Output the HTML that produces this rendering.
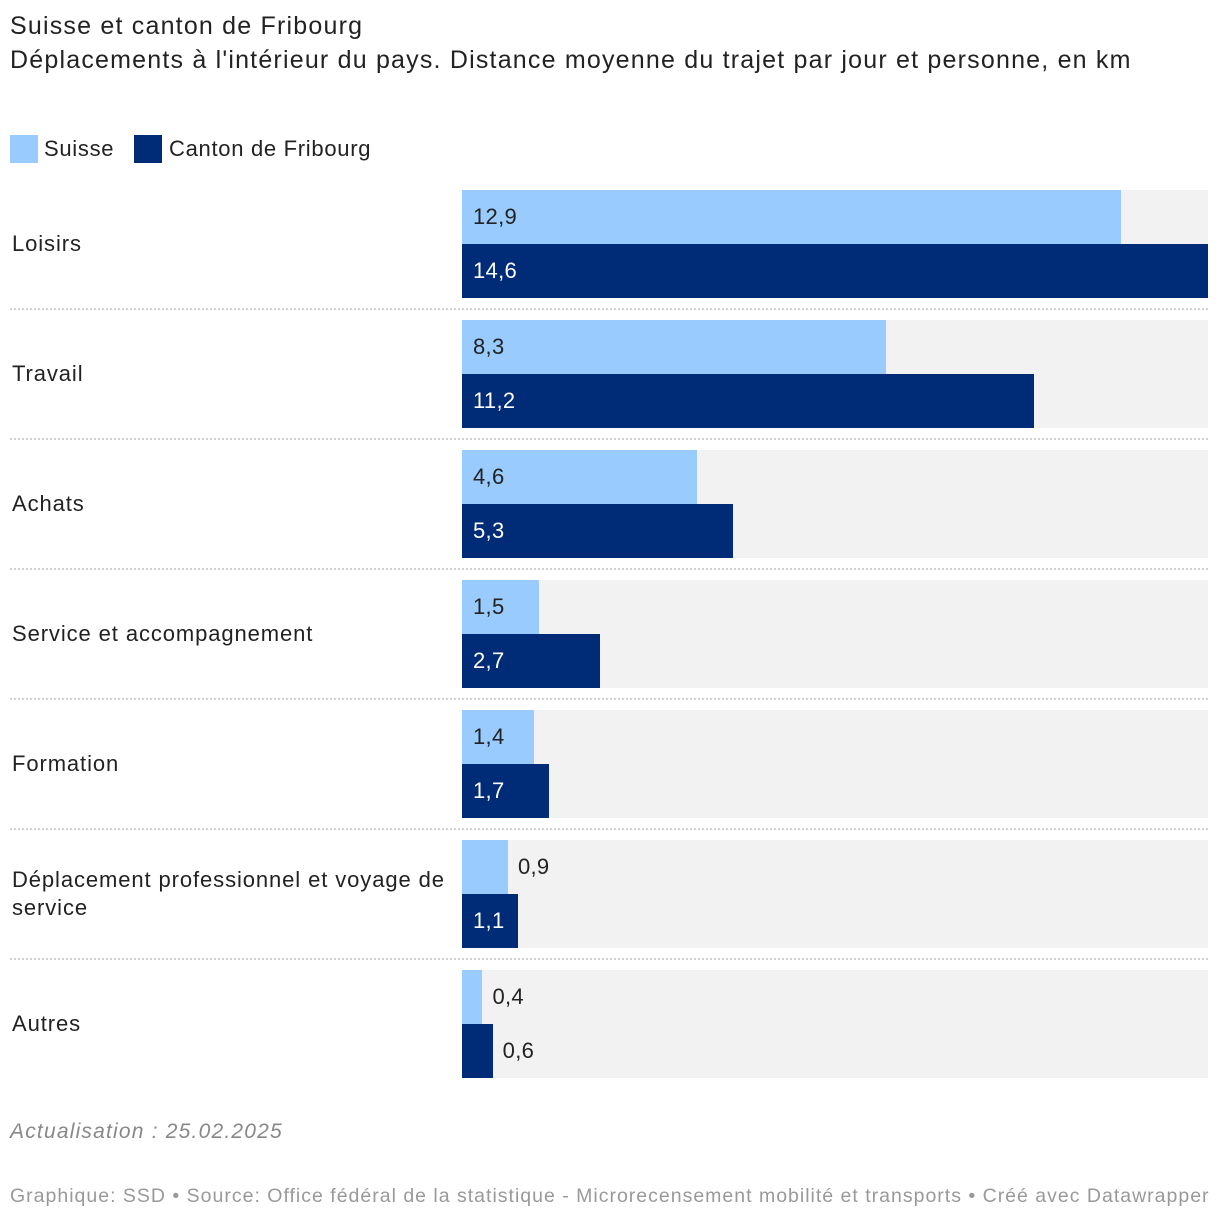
<!DOCTYPE html>
<html><head><meta charset="utf-8">
<style>
body{margin:0;width:1220px;height:1222px;background:#fff;font-family:"Liberation Sans",sans-serif;color:#222;position:relative;overflow:hidden}
.abs{position:absolute;white-space:nowrap}
</style></head><body>
<div class="abs" style="left:10px;top:12px;font-size:25px;letter-spacing:1.2px;color:#222">Suisse et canton de Fribourg</div>
<div class="abs" style="left:10px;top:46px;font-size:25px;letter-spacing:1.2px;color:#222">Déplacements à l'intérieur du pays. Distance moyenne du trajet par jour et personne, en km</div>
<div class="abs" style="left:10px;top:135px;font-size:22px;line-height:28px;letter-spacing:0.7px"><span style="display:inline-block;width:28px;height:28px;background:#99cbff;vertical-align:top;margin-right:6px"></span>Suisse</div>
<div class="abs" style="left:134px;top:135px;font-size:22px;line-height:28px;letter-spacing:0.7px"><span style="display:inline-block;width:28px;height:28px;background:#002b77;vertical-align:top;margin-right:7px"></span>Canton de Fribourg</div>
<div id="chart"></div>
<div class="abs" style="left:10px;top:1120px;font-size:21px;letter-spacing:1.2px;font-style:italic;color:#888">Actualisation : 25.02.2025</div>
<div class="abs" style="left:10px;top:1185px;font-size:19.5px;letter-spacing:1.0px;color:#999">Graphique: SSD • Source: Office fédéral de la statistique - Microrecensement mobilité et transports • Créé avec Datawrapper</div>
<script>
const categories=["Loisirs","Travail","Achats","Service et accompagnement","Formation","Déplacement professionnel et voyage de service","Autres"];
const suisse=[12.9,8.3,4.6,1.5,1.4,0.9,0.4];
const fribourg=[14.6,11.2,5.3,2.7,1.7,1.1,0.6];
const maxVal=14.6;
const x0=462,plotW=746,top0=190,pitch=130,barH=54;
function xs(v){return v/maxVal*plotW;}
const chart=document.getElementById('chart');
function mk(css){const d=document.createElement('div');d.className='abs';d.style.cssText=css;chart.appendChild(d);return d;}
function fmt(v){return v.toFixed(1).replace('.',',');}
categories.forEach((c,i)=>{
  const y=top0+i*pitch;
  const bg=mk(`left:${x0}px;top:${y}px;width:${plotW}px;height:${barH*2}px;background:#f2f2f2`);
  
  
  const lab=mk(`left:12px;top:${y}px;width:440px;height:${barH*2}px;display:flex;align-items:center;white-space:normal;font-size:22px;line-height:28px;letter-spacing:0.9px`);
  lab.textContent=c;
  
  
  if(i<categories.length-1){
    const sep=mk(`left:10px;top:${y+118}px;width:1198px;height:0;border-top:2px dotted #d0d0d0`);
    
    
  }
  [[suisse[i],'#99cbff','#222','bar-suisse'],[fribourg[i],'#002b77','#fff','bar-fribourg']].forEach((s,j)=>{
    const w=xs(s[0]);
    const b=mk(`left:${x0}px;top:${y+j*barH}px;width:${w}px;height:${barH}px;background:${s[1]}`);
    
    
    const inside=s[0]>=1.0;
    const t=mk(`left:${inside?x0+11:x0+w+10}px;top:${y+j*barH}px;height:${barH}px;line-height:${barH}px;font-size:22px;letter-spacing:0.3px;color:${inside?s[2]:'#222'}`);
    t.textContent=fmt(s[0]);
    
    
  });
});
</script>
</body></html>
